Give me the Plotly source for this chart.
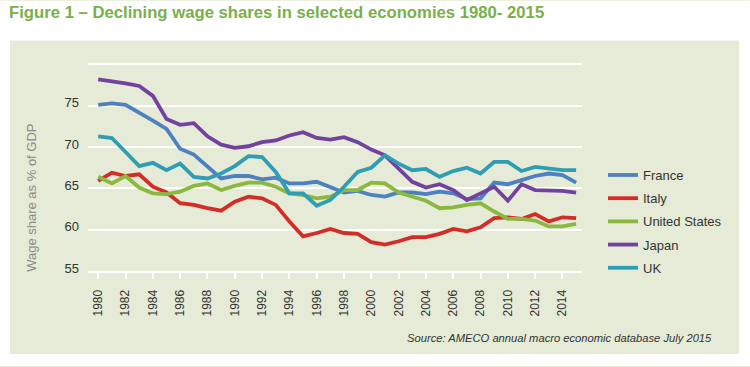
import plotly.graph_objects as go

years = list(range(1980, 2016))

france = [75.1, 75.3, 75.1, 74.2, 73.2, 72.2, 69.8, 69.1, 67.6, 66.2, 66.5, 66.5, 66.1, 66.3, 65.6,
          65.6, 65.8, 65.2, 64.5, 64.7, 64.2, 64.0, 64.5, 64.5, 64.3, 64.6, 64.4, 63.7, 63.8, 65.7,
          65.5, 66.0, 66.5, 66.8, 66.6, 65.7]
italy = [65.9, 66.9, 66.5, 66.7, 65.2, 64.5, 63.2, 63.0, 62.6, 62.3, 63.4, 64.0, 63.8, 63.0, 61.0,
         59.2, 59.6, 60.1, 59.6, 59.5, 58.5, 58.2, 58.6, 59.1, 59.1, 59.5, 60.1, 59.8, 60.3, 61.4,
         61.5, 61.3, 61.9, 61.0, 61.5, 61.4]
united_states = [66.4, 65.6, 66.5, 65.1, 64.4, 64.3, 64.6, 65.3, 65.6, 64.8, 65.3, 65.7, 65.7, 65.2, 64.4,
                 64.2, 63.8, 64.0, 64.8, 64.8, 65.7, 65.6, 64.5, 64.0, 63.5, 62.6, 62.7, 63.0, 63.2, 62.2,
                 61.3, 61.3, 61.1, 60.4, 60.4, 60.7]
japan = [78.2, 78.0, 77.7, 77.4, 76.2, 73.4, 72.7, 72.9, 71.3, 70.3, 69.9, 70.1, 70.6, 70.8, 71.4,
         71.8, 71.1, 70.9, 71.2, 70.6, 69.7, 69.0, 67.4, 65.8, 65.1, 65.5, 64.8, 63.6, 64.4, 65.2,
         63.5, 65.5, 64.8, 64.8, 64.7, 64.5]
uk = [71.3, 71.1, 69.4, 67.7, 68.1, 67.2, 68.0, 66.4, 66.2, 66.8, 67.7, 68.9, 68.8, 67.0, 64.4,
      64.4, 62.9, 63.6, 65.2, 67.0, 67.5, 69.0, 68.0, 67.2, 67.35, 66.4, 67.1, 67.5, 66.8, 68.2,
      68.2, 67.1, 67.6, 67.4, 67.2, 67.2]

series_names = ["France", "Italy", "United States", "Japan", "UK"]
series_values = [france, italy, united_states, japan, uk]
series_colors = ["#4e81bf", "#d42d27", "#8bb83e", "#7342a0", "#2f9db4"]

x_tick_labels = [str(y) for y in range(1980, 2015, 2)]
y_tick_values = [55, 60, 65, 70, 75, 80]
y_tick_labels = ["55", "60", "65", "70", "75", ""]

fig = go.Figure()
for i, (name, vals, col) in enumerate(zip(series_names, series_values, series_colors)):
    fig.add_trace(go.Scatter(x=years, y=vals, name=name, mode="lines",
                             line=dict(color=col, width=3.8), legendgroup=f"g{i}"))

W, H = 750, 367
L, R, T, B = 88, 582, 61.5, 271.5
pw, ph = R - L, B - T

def px(x):
    return (x - L) / pw

def py(y):
    return (B - y) / ph

panel = "#e5ebd6"
white_strips = [(0, W, 0, 40), (0, 10, 0, H), (739, W, 0, H), (0, W, 355, H)]
for x0, x1, y0, y1 in white_strips:
    fig.add_shape(type="rect", xref="paper", yref="paper", x0=px(x0), x1=px(x1), y0=py(y1), y1=py(y0),
                  fillcolor="white", line=dict(width=0), layer="below")

fig.add_annotation(text="<b>Figure 1 – Declining wage shares in selected economies 1980- 2015</b>",
                   xref="paper", yref="paper", x=px(7), y=py(12), xanchor="left", yanchor="middle",
                   showarrow=False, font=dict(size=16.7, color="#79b04a", family="Liberation Sans"))
fig.add_annotation(text="Wage share as % of GDP", textangle=-90, xref="paper", yref="paper",
                   x=px(32), y=py(198), xanchor="center", yanchor="middle", showarrow=False,
                   font=dict(size=13, color="#8a8a8a", family="Liberation Sans"))
fig.add_annotation(text="<i>Source: AMECO annual macro economic database July 2015</i>",
                   xref="paper", yref="paper", x=px(714), y=py(339), xanchor="right", yanchor="middle",
                   showarrow=False, font=dict(size=11.2, color="#333333", family="Liberation Sans"))

fig.update_layout(
    width=W, height=H,
    margin=dict(l=L, r=W - R, t=T, b=H - B, pad=0),
    paper_bgcolor=panel, plot_bgcolor=panel,
    font=dict(family="Liberation Sans", color="#333333"),
    showlegend=True,
    legend=dict(x=px(603), y=py(160), xanchor="left", yanchor="top", bgcolor="rgba(0,0,0,0)",
                font=dict(size=13, color="#333333"), tracegroupgap=3.3, itemwidth=30),
    xaxis=dict(range=[1979.25, 2015.43], tickmode="array",
               tickvals=list(range(1980, 2015, 2)), ticktext=x_tick_labels,
               tickangle=-90, tickfont=dict(size=12, color="#333333"),
               ticks="outside", ticklen=6, tickwidth=2, tickcolor="#ffffff",
               showgrid=False, zeroline=False, showline=True, linecolor="#ffffff", linewidth=2,
               ticklabelstandoff=6),
    yaxis=dict(range=[55, 80.3], tickmode="array", tickvals=y_tick_values, ticktext=y_tick_labels,
               tickfont=dict(size=13, color="#333333"), showgrid=True, gridcolor="#ffffff", gridwidth=2,
               zeroline=False, showline=False, ticks="", ticklabelstandoff=8, ticklabelshift=-3),
)

fig.write_html("out.html", post_script="document.body.style.margin='0';",
               config={"displayModeBar": False})
